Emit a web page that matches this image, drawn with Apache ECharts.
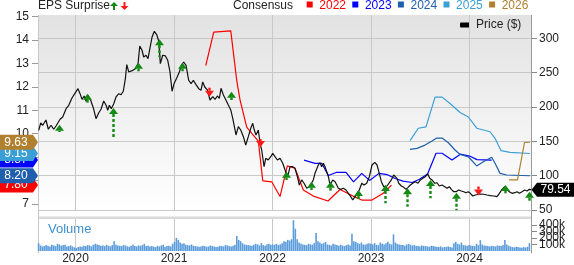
<!DOCTYPE html>
<html><head><meta charset="utf-8">
<script src="https://cdn.jsdelivr.net/npm/echarts@6/dist/echarts.min.js"></script>
<style>html,body{margin:0;padding:0;background:#fff}#c{width:574px;height:265px}</style>
</head><body><div id="c"></div>
<script>
// ---------- data ----------
const yearTicks = [2020, 2021, 2022, 2023, 2024];
const priceTicks = [50, 100, 150, 200, 250, 300];
const epsTicks = [7, 8, 9, 10, 11, 12, 13, 14, 15];
const volumeTicks = [0, 100000, 200000, 300000, 400000, 500000];

const priceDates = [
2019.626,2019.647,2019.667,2019.700,2019.724,2019.751,2019.779,2019.802,2019.822,2019.843,2019.870,2019.904,2019.931,2019.964,2019.992,
2020.025,2020.046,2020.066,2020.089,2020.107,2020.127,2020.154,2020.181,2020.208,2020.236,2020.259,2020.286,2020.310,2020.327,2020.343,
2020.363,2020.388,2020.411,2020.439,2020.462,2020.485,2020.506,2020.520,2020.540,2020.574,2020.607,2020.635,2020.652,2020.675,2020.692,
2020.716,2020.736,2020.756,2020.777,2020.800,2020.824,2020.845,2020.861,2020.885,2020.912,2020.936,2020.959,2020.980,2021.000,2021.027,
2021.054,2021.074,2021.098,2021.122,2021.149,2021.173,2021.196,2021.223,2021.251,2021.274,2021.291,2021.312,
2021.338,2021.365,2021.393,2021.416,2021.440,2021.460,2021.477,2021.501,2021.518,2021.535,2021.551,2021.576,2021.596,2021.629,2021.653,
2021.677,2021.704,2021.728,2021.754,2021.779,2021.799,2021.815,2021.832,2021.856,2021.873,2021.890,2021.914,2021.931,2021.957,2021.982,
2022.002,2022.025,2022.049,2022.076,2022.104,2022.127,2022.154,2022.178,2022.205,2022.228,2022.252,2022.272,2022.296,2022.320,2022.347,
2022.374,2022.414,2022.431,2022.449,2022.465,2022.482,2022.499,2022.516,2022.533,2022.550,2022.567,2022.584,2022.611,2022.635,2022.652,
2022.668,2022.692,2022.719,2022.746,2022.770,2022.794,2022.814,2022.838,2022.855,2022.881,2022.906,2022.929,2022.956,2022.983,
2023.010,2023.038,2023.061,2023.084,2023.105,2023.129,2023.145,2023.162,2023.180,2023.206,2023.230,2023.247,2023.264,2023.281,2023.308,
2023.332,2023.355,2023.376,2023.399,2023.423,2023.450,2023.477,2023.501,2023.525,2023.551,2023.576,2023.596,2023.619,2023.647,2023.670,
2023.693,2023.721,2023.748,2023.772,2023.795,2023.815,2023.840,2023.863,2023.890,2023.917,2023.941,2023.964,2023.985,2024.008,2024.033,
2024.059,2024.076,2024.110,2024.144,2024.178,2024.211,2024.246,2024.279,2024.303,2024.330,2024.357,2024.381,2024.404,2024.431,2024.459,
2024.482,2024.506,2024.533,2024.560,2024.584,2024.607,2024.624
];
const priceValues = [
166.0,176.6,173.3,181.0,167.5,173.3,167.5,172.3,169.4,182.0,185.4,197.5,202.4,213.0,219.3,
226.6,219.3,211.1,215.9,208.2,217.0,209.7,198.5,182.9,191.6,196.6,208.7,202.4,195.1,202.4,
197.5,204.7,214.5,219.3,217.8,222.8,241.1,261.5,250.9,252.8,255.7,263.0,288.7,282.5,272.7,
275.2,270.2,285.8,301.8,310.1,305.2,295.6,263.0,275.2,274.2,267.9,250.9,222.8,233.8,242.1,
250.9,260.6,265.4,260.6,238.8,233.8,238.8,232.4,226.6,224.2,236.3,229.0,
224.7,210.1,214.9,211.1,215.9,212.6,227.1,217.4,212.6,210.1,202.8,195.6,183.5,159.2,171.3,
166.4,156.7,144.6,156.7,168.9,176.2,166.4,159.2,166.4,147.1,137.3,113.0,125.3,122.8,127.6,
132.5,127.6,122.8,125.3,118.0,108.2,98.5,113.0,113.0,110.7,98.5,86.4,93.7,88.9,81.6,
83.9,93.7,103.4,105.7,115.5,118.9,113.0,118.0,113.0,105.7,98.5,86.4,93.7,91.2,86.4,
81.6,80.1,81.6,79.1,74.3,69.4,64.6,69.4,71.8,79.1,88.9,86.4,88.9,98.5,
115.5,119.4,115.5,103.4,91.2,83.9,81.6,84.9,86.4,93.7,100.9,103.4,96.1,88.9,84.9,
83.0,80.1,83.0,86.4,88.9,91.2,88.9,93.7,96.1,98.5,102.4,96.1,93.7,88.9,89.7,
84.9,86.4,83.9,81.6,83.9,80.1,76.6,76.6,79.1,77.7,76.6,75.2,76.6,74.3,70.4,
71.8,74.3,73.3,72.9,71.8,70.8,70.4,69.4,74.3,80.1,83.9,80.1,76.6,74.3,75.2,
76.6,74.3,76.6,79.1,77.7,80.1,79.54
];

const c2022Dates = [2021.322,2021.403,2021.576,2021.636,2021.670,2021.738,2021.789,2021.856,2021.901,2021.992,2022.076,2022.150,2022.228,2022.313,2022.414,2022.563,2022.685,2022.817,2022.906,2023.010,2023.125,2023.208];
const c2022Values = [12.91,14.34,14.39,12.29,11.44,10.28,10.01,9.68,7.98,7.94,7.31,8.62,8.52,7.59,7.33,7.12,7.61,7.33,7.16,7.16,7.45,7.80];
const c2023Dates = [2022.320,2022.431,2022.499,2022.567,2022.645,2022.746,2022.822,2022.906,2022.985,2023.081,2023.162,2023.244,2023.325,2023.416,2023.487,2023.574,2023.660,2023.721,2023.822,2023.907,2024.000,2024.076,2024.225];
const c2023Values = [8.87,8.73,8.73,8.21,8.34,8.34,7.94,8.30,8.00,8.30,8.25,8.08,7.97,7.91,8.04,8.27,9.16,9.16,8.87,9.12,9.04,8.89,8.87];
const c2024Dates = [2023.396,2023.467,2023.548,2023.619,2023.667,2023.721,2023.785,2023.853,2023.904,2023.990,2024.073,2024.140,2024.225,2024.259,2024.310,2024.378,2024.614];
const c2024Values = [9.33,9.37,9.51,9.68,9.81,9.81,9.61,9.30,9.11,9.00,8.62,8.80,8.99,8.73,8.30,8.23,8.20];
const c2025Dates = [2023.396,2023.480,2023.558,2023.650,2023.721,2023.802,2023.904,2023.988,2024.073,2024.208,2024.259,2024.320,2024.411,2024.614];
const c2025Values = [9.70,10.23,10.29,11.56,11.56,11.29,10.90,10.71,10.23,10.08,9.80,9.27,9.20,9.15];
const c2026Dates = [2024.401,2024.487,2024.558,2024.614];
const c2026Values = [8.02,8.02,9.62,9.63];

const surpriseDates = [2019.829,2020.114,2020.384,2020.631,2020.845,2021.081,2021.352,2021.579,2021.873,2022.137,2022.391,2022.584,2022.865,2023.137,2023.365,2023.596,2023.866,2024.086,2024.357,2024.607];
const surpriseHead  = [174.2,219.3,198.5,264.4,298.5,264.4,214.9,222.2,141.7,105.7,91.2,91.2,79.1,86.4,81.6,93.7,75.2,71.1,86.4,76.6];
const surpriseTail  = [163.5,206.2,156.3,251.9,272.7,251.9,230.5,210.1,153.3,93.7,79.1,78.1,64.6,59.8,54.8,67.0,49.5,84.9,74.3,62.1];
const surpriseSign  = [1,1,1,1,1,1,-1,1,-1,1,1,1,1,1,1,1,1,-1,1,1];

const volumeStart = 2019.625;           // first weekly bar
const volumeK = [
120,85,70,75,90,80,70,95,85,75,110,100,80,90,95,70,75,85,70,55,
45,60,70,65,80,75,90,85,70,95,110,100,90,80,85,75,95,80,70,90,
150,95,85,80,75,90,85,70,65,80,95,75,70,85,80,90,110,75,80,70,
75,65,60,80,70,85,95,60,75,80,70,110,
140,200,170,130,110,120,95,90,85,100,80,75,70,65,
70,80,75,65,70,85,75,70,60,65,80,75,70,90,85,75,70,80,95,
230,170,150,
120,100,95,90,85,80,95,110,100,85,120,90,80,105,110,95,
100,95,110,90,100,120,150,140,170,160,180,
470,340,
180,130,110,100,95,90,110,100,95,120,
275,
150,130,110,120,140,100,95,85,110,100,90,80,95,85,75,90,100,85,
265,
150,140,120,110,130,100,95,110,120,
110,100,120,95,90,130,110,100,120,140,110,100,
255,
130,110,100,95,90,80,100,110,95,85,90,80,75,70,85,80,75,70,65,80,75,70,
65,60,70,55,60,65,70,60,55,120,140,110,100,130,90,85,80,
90,85,80,75,110,90,165,100,85,80,75,70,80,75,70,85,80,75,90,
170,
100,80,70,60,55,65,60,55,50,60,55,65,120
];

const consensusNames = ['2022','2023','2024','2025','2026'];
const consensusColors = ['#ff0000','#0000ff','#1f5fad','#3a9fd6','#b0802f'];

// ---------- chart ----------
const FONT = "'Liberation Sans', Arial, sans-serif";
const X_MIN = 2019.619, X_MAX = 2024.624;
const WEEK = 7 / 365.25;
const zip = (a, b) => a.map((v, i) => [v, b[i]]);
const consensusSets = [
  zip(c2022Dates, c2022Values), zip(c2023Dates, c2023Values), zip(c2024Dates, c2024Values),
  zip(c2025Dates, c2025Values), zip(c2026Dates, c2026Values)
];
const badgeOrder = [0, 1, 3, 2, 4];

const chart = echarts.init(document.getElementById('c'));

const xCommon = {
  type: 'value', min: X_MIN, max: X_MAX,
  axisLine: { show: false },
  axisTick: { show: false, customValues: yearTicks },
  splitLine: { show: true, lineStyle: { color: '#c8c8c8', width: 1 } }
};

const series = [];
consensusSets.forEach((d, i) => {
  series.push({
    type: 'line', name: consensusNames[i], xAxisIndex: 0, yAxisIndex: 1,
    data: d, showSymbol: false, symbol: 'none', z: 2,
    lineStyle: { color: consensusColors[i], width: 1.2 }, silent: true
  });
});
series.push({
  type: 'line', name: 'Price', xAxisIndex: 0, yAxisIndex: 0,
  data: zip(priceDates, priceValues), showSymbol: false, symbol: 'none', z: 3,
  lineStyle: { color: '#111', width: 1.2 }, silent: true
});
series.push({
  type: 'custom', name: 'surprise', xAxisIndex: 0, yAxisIndex: 0, z: 4, clip: false, silent: true,
  data: surpriseDates.map((d, i) => [d, surpriseHead[i], surpriseTail[i], surpriseSign[i]]),
  renderItem(params, api) {
    const h = api.coord([api.value(0), api.value(1)]);
    const t = api.coord([api.value(0), api.value(2)]);
    const up = api.value(3) > 0;
    const color = up ? '#138a13' : '#ff1a1a';
    const x = Math.round(h[0]) + 0.5;
    const hh = 6, hw = 4.5;
    const base = up ? h[1] + hh : h[1] - hh;
    return { type: 'group', children: [
      { type: 'line', shape: { x1: x, y1: base, x2: x, y2: t[1] },
        style: { stroke: color, lineWidth: 2.4, lineDash: [3, 2] } },
      { type: 'polygon', shape: { points: [[x, h[1]], [x - hw, base], [x + hw, base]] },
        style: { fill: color } }
    ]};
  }
});
series.push({
  type: 'bar', name: 'Volume', xAxisIndex: 1, yAxisIndex: 2,
  data: volumeK.map((v, i) => [volumeStart + i * WEEK, v * 1000]),
  barWidth: 1.6, itemStyle: { color: '#5b9cdb' }, silent: true
});
series.push({
  type: 'custom', name: 'badges', xAxisIndex: 0, yAxisIndex: 1, z: 6, clip: false, silent: true,
  data: badgeOrder.map(k => [2021, consensusSets[k][consensusSets[k].length - 1][1], k]),
  renderItem(params, api) {
    const y = api.coord([api.value(0), api.value(1)])[1];
    const k = api.value(2);
    const top = y - 7.5, bot = y + 7.5;
    return { type: 'group', children: [
      { type: 'polygon', shape: { points: [[0, top], [33, top], [38, y], [33, bot], [0, bot]] },
        style: { fill: consensusColors[k] } },
      { type: 'text', style: { text: api.value(1).toFixed(2), x: 16, y: y, fill: '#fff',
        fontSize: 12, fontFamily: FONT, align: 'center', verticalAlign: 'middle' } }
    ]};
  }
});
series.push({
  type: 'custom', name: 'lastPrice', xAxisIndex: 0, yAxisIndex: 0, z: 6, clip: false, silent: true,
  data: [[priceDates[priceDates.length - 1], priceValues[priceValues.length - 1]]],
  renderItem(params, api) {
    const y = api.coord([api.value(0), api.value(1)])[1];
    return { type: 'group', children: [
      { type: 'polygon', shape: { points: [[531.5, y], [537, y - 7], [574, y - 7], [574, y + 7], [537, y + 7]] },
        style: { fill: '#000' } },
      { type: 'text', style: { text: api.value(1).toFixed(2), x: 555.5, y: y, fill: '#fff',
        fontSize: 12, fontFamily: FONT, align: 'center', verticalAlign: 'middle' } }
    ]};
  }
});

const graphic = [
  { type: 'rect', shape: { x: 38, y: 216.5, width: 493, height: 2.5 }, style: { fill: '#d9d9d9' }, z: 1 },
  { type: 'line', shape: { x1: 38.5, y1: 15, x2: 38.5, y2: 253.3 }, style: { stroke: '#c8c8c8', lineWidth: 1 }, z: 1 },
  { type: 'line', shape: { x1: 531.5, y1: 15, x2: 531.5, y2: 253.3 }, style: { stroke: '#9a9a9a', lineWidth: 1 }, z: 1 },
  { type: 'text', x: 38, y: 6, style: { text: 'EPS Surprise', fill: '#222', fontSize: 12, fontFamily: FONT, verticalAlign: 'middle' } },
  { type: 'polygon', shape: { points: [[114, 2], [110, 6], [118, 6]] }, style: { fill: '#138a13' } },
  { type: 'line', shape: { x1: 114, y1: 6, x2: 114, y2: 10 }, style: { stroke: '#138a13', lineWidth: 2 } },
  { type: 'polygon', shape: { points: [[124.5, 10], [120.5, 6], [128.5, 6]] }, style: { fill: '#ff1a1a' } },
  { type: 'line', shape: { x1: 124.5, y1: 2, x2: 124.5, y2: 6 }, style: { stroke: '#ff1a1a', lineWidth: 2 } },
  { type: 'text', x: 293, y: 6, style: { text: 'Consensus', fill: '#222', fontSize: 12, fontFamily: FONT, align: 'right', verticalAlign: 'middle' } },
  { type: 'rect', shape: { x: 460, y: 22.5, width: 10, height: 5, r: 1 }, style: { fill: '#000' } },
  { type: 'text', x: 476, y: 25, style: { text: 'Price ($)', fill: '#222', fontSize: 12, fontFamily: FONT, verticalAlign: 'middle' } },
  { type: 'text', x: 48, y: 229, style: { text: 'Volume', fill: '#3b8fd0', fontSize: 13, fontFamily: FONT, verticalAlign: 'middle' } }
];
consensusNames.forEach((n, i) => {
  const x0 = 306.7 + i * 45.6;
  graphic.push({ type: 'rect', shape: { x: x0, y: 1.5, width: 6, height: 6 }, style: { fill: consensusColors[i] } });
  graphic.push({ type: 'text', x: x0 + 12.6, y: 5.5, style: { text: n, fill: consensusColors[i], fontSize: 12, fontFamily: FONT, verticalAlign: 'middle' } });
});

chart.setOption({
  animation: false,
  textStyle: { fontFamily: FONT },
  grid: [
    { left: 38, right: 43, top: 15, height: 195, show: true, borderWidth: 0,
      backgroundColor: new echarts.graphic.LinearGradient(0, 0, 0, 1, [
        { offset: 0, color: '#e2e2e2' }, { offset: 1, color: '#ffffff' }]) },
    { left: 38, right: 43, top: 218.3, height: 35 }
  ],
  xAxis: [
    Object.assign({ gridIndex: 0, axisLabel: { show: false } }, xCommon),
    Object.assign({ gridIndex: 1, axisLabel: { show: true, customValues: yearTicks, margin: 2,
      color: '#222', fontSize: 12, formatter: v => String(Math.round(v)) } }, xCommon)
  ],
  yAxis: [
    { type: 'value', gridIndex: 0, position: 'right', min: 50, max: 333.8,
      axisLine: { show: false },
      axisTick: { show: true, length: 6, customValues: priceTicks, lineStyle: { color: '#888' } },
      axisLabel: { customValues: priceTicks, margin: 8, color: '#222', fontSize: 12 },
      splitLine: { show: true, lineStyle: { color: '#c8c8c8', width: 1 } } },
    { type: 'value', gridIndex: 0, position: 'left', min: 6.735, max: 15.07,
      axisLine: { show: false },
      axisTick: { show: true, length: 6, customValues: epsTicks, lineStyle: { color: '#999' } },
      axisLabel: { customValues: epsTicks, margin: 9, color: '#222', fontSize: 12 },
      splitLine: { show: false } },
    { type: 'value', gridIndex: 1, position: 'right', min: 0, max: 500000,
      axisLine: { show: false },
      axisTick: { show: true, length: 6, customValues: volumeTicks, lineStyle: { color: '#888' } },
      axisLabel: { customValues: volumeTicks, margin: 8, color: '#222', fontSize: 12, hideOverlap: false,
        formatter: v => v === 0 ? '0' : (v / 1000) + 'k' },
      splitLine: { show: false } }
  ],
  graphic: graphic,
  series: series
});
</script></body></html>
